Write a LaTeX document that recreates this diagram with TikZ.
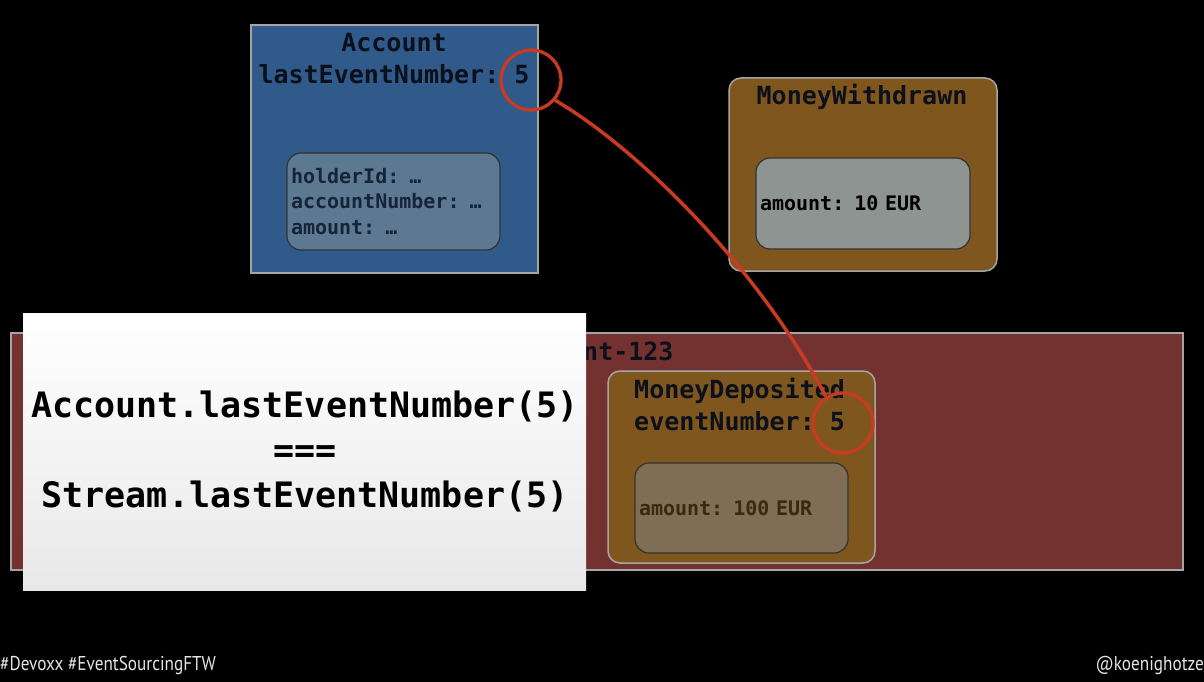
\documentclass[tikz,border=0pt]{standalone}
\usepackage{fontspec}
\setmonofont{DejaVu Sans Mono}
\newfontfamily\slidefont[FakeStretch=0.86]{PT Sans}
\usepackage{xcolor}
\usetikzlibrary{positioning}
\definecolor{acctblue}{RGB}{47,90,138}
\definecolor{acctfield}{RGB}{93,120,145}
\definecolor{eventbrown}{RGB}{127,86,30}
\definecolor{withdrawnfield}{RGB}{142,148,145}
\definecolor{depositfield}{RGB}{127,110,85}
\definecolor{streamred}{RGB}{115,50,48}
\definecolor{framegray}{RGB}{165,165,165}
\definecolor{ringred}{RGB}{200,58,34}
\definecolor{titleink}{RGB}{12,16,26}
\definecolor{acctink}{RGB}{22,36,58}
\definecolor{depositink}{RGB}{58,40,16}
\definecolor{tagwhite}{RGB}{228,228,228}
\tikzset{%
	box/.style       = {draw=framegray, line width=1.5pt, inner sep=0pt, outer sep=0pt},
	field/.style     = {draw=black!80, line width=1.2pt, rounded corners=14pt, inner sep=4pt, outer sep=0pt, align=left,
	                    font=\ttfamily\bfseries\fontsize{20}{25.5}\selectfont},
	heading/.style   = {font=\ttfamily\bfseries\fontsize{25}{32}\selectfont, text=titleink, inner sep=0pt},
	ring/.style      = {draw=ringred, line width=3.3pt, circle, minimum size=60pt, inner sep=0pt},
	tag/.style       = {font=\slidefont\fontsize{20}{20}\selectfont, text=tagwhite, inner sep=0pt},
}
\begin{document}
\begin{tikzpicture}[x=1pt, y=-1pt]
	\fill[black] (0,0) rectangle (1204,682);
	\useasboundingbox (0,0) rectangle (1204,682);

	% aggregate
	\node[box, fill=acctblue, anchor=north west, minimum width=287pt, minimum height=248pt] (acct) at (251,25) {};
	\node[heading, align=center] (accttitle) at (394,59) {Account\\lastEventNumber: 5};
	\node[field, fill=acctfield, text=acctink, text width=205pt, minimum height=97pt,
	      below right=128pt and 36pt of acct.north west] (acctfields) {holderId: …\\accountNumber: …\\amount: …};

	% loose event
	\node[box, fill=eventbrown, rounded corners=12pt, anchor=north west, minimum width=268pt, minimum height=193pt] (withdrawn) at (729,78) {};
	\node[heading] (withdrawntitle) at (862,97) {MoneyWithdrawn};
	\node[field, fill=withdrawnfield, text=black, text width=206pt, minimum height=91pt,
	      below right=80pt and 27pt of withdrawn.north west] (withdrawnfields) {amount: 10 EUR};

	% stream
	\node[box, fill=streamred, anchor=north west, minimum width=1172pt, minimum height=237pt] (stream) at (11,333) {};
	\node[heading, anchor=west] (streamtitle) at (583,351) {nt-123};
	\node[box, fill=eventbrown, rounded corners=12pt, anchor=north west, minimum width=267pt, minimum height=192pt] (deposited) at (608,371) {};
	\node[heading, align=left, anchor=west] (deposittitle) at (634,405) {MoneyDeposited\\eventNumber: 5};
	\node[field, fill=depositfield, text=depositink, text width=205pt, minimum height=90pt,
	      below right=92pt and 27pt of deposited.north west] (depositfields) {amount: 100 EUR};

	% statement
	\node[top color=white, bottom color=black!9, anchor=north west,
	      minimum width=563pt, minimum height=277pt, inner sep=0pt] (claim) at (23,313) {};
	\node[font=\ttfamily\bfseries\fontsize{35}{45}\selectfont, align=center, inner sep=0pt] (claimtext) at (305,452)
	     {Account.lastEventNumber(5)\\===\\Stream.lastEventNumber(5)};

	% marks
	\node[ring] (ring1) at (531,80) {};
	\node[ring] (ring2) at (843,423) {};
	\draw[ringred, line width=3.5pt] (ring1.-40) .. controls (640,150) and (760,270) .. (ring2.123);

	\node[tag, anchor=west] (hashtags) at (0,665) {\#Devoxx \#EventSourcingFTW};
	\node[tag, anchor=east] (handle) at (1204,665) {@koenighotze};
\end{tikzpicture}
\end{document}
